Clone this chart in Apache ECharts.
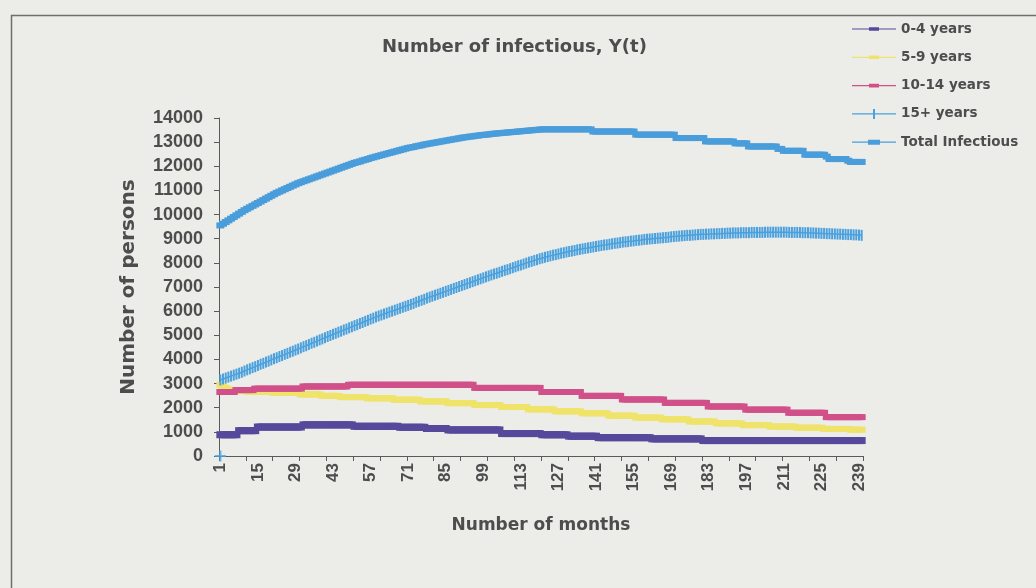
<!DOCTYPE html>
<html><head><meta charset="utf-8">
<script src="https://cdn.jsdelivr.net/npm/echarts@6/dist/echarts.min.js"></script>
<style>html,body{margin:0;padding:0;background:#ecece9;}#c{width:1036px;height:588px;}</style>
</head><body><div id="c"></div>
<script>
// Categories: month numbers 1..240
const months = Array.from({length: 240}, (_, i) => String(i + 1));

const seriesNames = ['0-4 years', '5-9 years', '10-14 years', '15+ years', 'Total Infectious'];

const age0_4 = [
880,880,880,880,880,880,880,1050,1050,1050,
1050,1050,1050,1050,1200,1200,1200,1200,1200,1200,
1200,1200,1200,1200,1200,1200,1200,1200,1200,1200,
1200,1290,1290,1290,1290,1290,1290,1290,1290,1290,
1290,1290,1290,1290,1290,1290,1290,1290,1290,1290,
1230,1230,1230,1230,1230,1230,1230,1230,1230,1230,
1230,1230,1230,1230,1230,1230,1230,1190,1190,1190,
1190,1190,1190,1190,1190,1190,1190,1140,1140,1140,
1140,1140,1140,1140,1140,1080,1080,1080,1080,1080,
1080,1080,1080,1080,1080,1080,1080,1080,1080,1080,
1080,1080,1080,1080,1080,930,930,930,930,930,
930,930,930,930,930,930,930,930,930,930,
880,880,880,880,880,880,880,880,880,880,
820,820,820,820,820,820,820,820,820,820,
820,760,760,760,760,760,760,760,760,760,
760,760,760,760,760,760,760,760,760,760,
760,710,710,710,710,710,710,710,710,710,
710,710,710,710,710,710,710,710,710,710,
640,640,640,640,640,640,640,640,640,640,
640,640,640,640,640,640,640,640,640,640,
640,640,640,640,640,640,640,640,640,640,
640,640,640,640,640,640,640,640,640,640,
640,640,640,640,640,640,640,640,640,640,
640,640,640,640,640,640,640,640,640,640
];

const age5_9 = [
2950,2880,2820,2770,2730,2700,2700,2700,2700,2700,
2660,2660,2660,2660,2660,2660,2660,2660,2660,2660,
2610,2610,2610,2610,2610,2610,2610,2610,2610,2610,
2550,2550,2550,2550,2550,2550,2550,2550,2490,2490,
2490,2490,2490,2490,2490,2440,2440,2440,2440,2440,
2440,2440,2440,2440,2440,2390,2390,2390,2390,2390,
2390,2390,2390,2390,2390,2330,2330,2330,2330,2330,
2330,2330,2330,2330,2330,2260,2260,2260,2260,2260,
2260,2260,2260,2260,2260,2190,2190,2190,2190,2190,
2190,2190,2190,2190,2190,2110,2110,2110,2110,2110,
2110,2110,2110,2110,2110,2030,2030,2030,2030,2030,
2030,2030,2030,2030,2030,1930,1930,1930,1930,1930,
1930,1930,1930,1930,1930,1850,1850,1850,1850,1850,
1850,1850,1850,1850,1850,1770,1770,1770,1770,1770,
1770,1770,1770,1770,1770,1670,1670,1670,1670,1670,
1670,1670,1670,1670,1670,1590,1590,1590,1590,1590,
1590,1590,1590,1590,1590,1520,1520,1520,1520,1520,
1520,1520,1520,1520,1520,1430,1430,1430,1430,1430,
1430,1430,1430,1430,1430,1350,1350,1350,1350,1350,
1350,1350,1350,1350,1350,1280,1280,1280,1280,1280,
1280,1280,1280,1280,1280,1220,1220,1220,1220,1220,
1220,1220,1220,1220,1220,1170,1170,1170,1170,1170,
1170,1170,1170,1170,1170,1120,1120,1120,1120,1120,
1120,1120,1120,1120,1120,1090,1090,1090,1090,1090
];

const age10_14 = [
2650,2650,2650,2650,2650,2650,2730,2730,2730,2730,
2730,2730,2730,2790,2790,2790,2790,2790,2790,2790,
2790,2790,2790,2790,2790,2790,2790,2790,2790,2790,
2790,2880,2880,2880,2880,2880,2880,2880,2880,2880,
2880,2880,2880,2880,2880,2880,2880,2880,2950,2950,
2950,2950,2950,2950,2950,2950,2950,2950,2950,2950,
2950,2950,2950,2950,2950,2950,2950,2950,2950,2950,
2950,2950,2950,2950,2950,2950,2950,2950,2950,2950,
2950,2950,2950,2950,2950,2950,2950,2950,2950,2950,
2950,2950,2950,2950,2950,2820,2820,2820,2820,2820,
2820,2820,2820,2820,2820,2820,2820,2820,2820,2820,
2820,2820,2820,2820,2820,2820,2820,2820,2820,2820,
2650,2650,2650,2650,2650,2650,2650,2650,2650,2650,
2650,2650,2650,2650,2650,2490,2490,2490,2490,2490,
2490,2490,2490,2490,2490,2490,2490,2490,2490,2490,
2340,2340,2340,2340,2340,2340,2340,2340,2340,2340,
2340,2340,2340,2340,2340,2340,2200,2200,2200,2200,
2200,2200,2200,2200,2200,2200,2200,2200,2200,2200,
2200,2200,2050,2050,2050,2050,2050,2050,2050,2050,
2050,2050,2050,2050,2050,2050,1920,1920,1920,1920,
1920,1920,1920,1920,1920,1920,1920,1920,1920,1920,
1920,1920,1790,1790,1790,1790,1790,1790,1790,1790,
1790,1790,1790,1790,1790,1790,1610,1610,1610,1610,
1610,1610,1610,1610,1610,1610,1610,1610,1610,1610
];

const age15plus = [
3150,3190,3230,3270,3310,3350,3390,3430,3470,3520,
3570,3610,3660,3700,3750,3800,3840,3890,3930,3980,
4030,4070,4120,4160,4210,4250,4300,4340,4390,4430,
4480,4530,4570,4620,4670,4710,4760,4810,4850,4900,
4950,4990,5040,5080,5130,5170,5220,5260,5310,5350,
5400,5440,5490,5530,5580,5620,5670,5710,5760,5800,
5840,5880,5920,5960,6000,6040,6080,6120,6160,6200,
6240,6280,6320,6370,6410,6450,6490,6540,6580,6620,
6660,6700,6740,6780,6820,6860,6900,6940,6980,7020,
7060,7100,7140,7180,7220,7260,7300,7340,7380,7420,
7460,7500,7540,7570,7610,7650,7690,7720,7760,7800,
7840,7880,7910,7950,7990,8030,8060,8100,8130,8170,
8200,8230,8260,8290,8320,8340,8370,8400,8420,8450,
8470,8490,8510,8540,8560,8580,8600,8620,8640,8660,
8680,8700,8720,8740,8750,8770,8790,8810,8820,8840,
8860,8870,8880,8900,8910,8930,8940,8950,8970,8980,
8990,9000,9010,9020,9030,9040,9050,9060,9080,9090,
9100,9110,9120,9130,9140,9140,9150,9160,9170,9180,
9180,9190,9190,9200,9200,9210,9210,9220,9220,9230,
9230,9240,9240,9240,9250,9250,9250,9250,9260,9260,
9260,9260,9260,9270,9270,9270,9270,9270,9270,9270,
9270,9270,9260,9260,9260,9260,9260,9250,9250,9250,
9240,9240,9230,9230,9220,9220,9210,9210,9200,9200,
9190,9190,9180,9180,9170,9170,9160,9160,9150,9140
];

const totalInfectious = [
9550,9620,9690,9760,9830,9900,9970,10040,10110,10180,
10240,10300,10360,10420,10480,10540,10600,10660,10720,10780,
10840,10900,10950,11000,11050,11100,11150,11200,11250,11300,
11340,11380,11420,11460,11500,11540,11580,11620,11660,11700,
11740,11780,11820,11860,11900,11940,11980,12020,12060,12100,
12140,12170,12200,12240,12270,12300,12340,12370,12400,12430,
12460,12490,12520,12550,12580,12610,12640,12670,12700,12730,
12760,12780,12800,12830,12850,12870,12900,12920,12940,12960,
12980,13000,13020,13040,13060,13080,13100,13120,13140,13160,
13180,13200,13210,13230,13240,13260,13270,13290,13300,13310,
13320,13340,13350,13360,13370,13380,13390,13400,13410,13420,
13430,13440,13450,13460,13470,13480,13490,13500,13510,13520,
13530,13530,13530,13530,13530,13530,13530,13530,13530,13530,
13530,13530,13530,13530,13530,13530,13530,13530,13530,13440,
13440,13440,13440,13440,13440,13440,13440,13440,13440,13440,
13440,13440,13440,13440,13440,13310,13310,13310,13310,13310,
13310,13310,13310,13310,13310,13310,13310,13310,13310,13310,
13170,13170,13170,13170,13170,13170,13170,13170,13170,13170,
13170,13030,13030,13030,13030,13030,13030,13030,13030,13030,
13030,13030,12950,12950,12950,12950,12950,12820,12820,12820,
12820,12820,12820,12820,12820,12820,12820,12820,12720,12720,
12640,12640,12640,12640,12640,12640,12640,12640,12480,12480,
12480,12480,12480,12480,12480,12480,12400,12300,12300,12300,
12300,12300,12300,12300,12230,12180,12180,12180,12180,12180
];

// Lone marker drawn at month 1 on the zero line
const originMarker = [0];

const colors = ['#56489b', '#efe36a', '#d1508a', '#4aa1dd', '#4a9ddb'];
const textColor = '#4d4d4d';

const chart = echarts.init(document.getElementById('c'), null, {renderer: 'canvas'});

const base = 'path://M0,0L0.01,0M44,14L43.99,14M0,6.4H44V7.6H0Z';
const icons = [
  base + 'M17,5.2H27V8.8H17Z',
  base + 'M17,5.2H27V8.8H17Z',
  base + 'M17,5.2H27V8.8H17Z',
  base + 'M21,2H23V12H21Z',
  base + 'M16,4.5H28V9.5H16Z'
];

function lineSeries(i, data, symSize, width) {
  return {
    name: seriesNames[i], type: 'line', data: data,
    symbol: 'rect', symbolSize: symSize, showSymbol: true, showAllSymbol: true,
    lineStyle: {color: colors[i], width: width},
    itemStyle: {color: colors[i]},
    emphasis: {disabled: true}, sampling: null, z: 2 + i
  };
}

chart.setOption({
  animation: false,
  backgroundColor: '#ecece9',
  graphic: [{
    type: 'rect', left: 9, top: 13, z: -1,
    shape: {x: 0, y: 0, width: 1100, height: 700},
    style: {fill: 'none', stroke: '#6e6e6e', lineWidth: 1.5}
  }],
  title: {
    text: 'Number of infectious, Y(t)',
    left: 377, top: 33,
    textStyle: {fontFamily: 'DejaVu Sans', fontWeight: 'bold', fontSize: 18, color: textColor}
  },
  legend: {
    orient: 'vertical', left: 847, top: 17,
    itemWidth: 44, itemHeight: 14, itemGap: 14.3,
    data: seriesNames.map((n, i) => ({name: n, icon: icons[i]})),
    textStyle: {fontFamily: 'DejaVu Sans', fontWeight: 'bold', fontSize: 13.5, color: textColor},
    selectedMode: false
  },
  grid: {left: 219, right: 173, top: 118, bottom: 132, containLabel: false, outerBoundsMode: 'none'},
  xAxis: {
    type: 'category', data: months, boundaryGap: true,
    name: 'Number of months', nameLocation: 'middle', nameGap: 61,
    nameTextStyle: {fontFamily: 'DejaVu Sans', fontWeight: 'bold', fontSize: 17, color: textColor},
    axisLine: {show: true, lineStyle: {color: '#5a5a5a', width: 1}},
    axisTick: {show: true, interval: 9, length: 5, inside: false, lineStyle: {color: '#5a5a5a'}},
    axisLabel: {interval: 13, rotate: 90, margin: 7, fontFamily: 'Liberation Sans', fontWeight: 'bold', fontSize: 17, color: textColor},
    splitLine: {show: false}
  },
  yAxis: {
    type: 'value', min: 0, max: 14000, interval: 1000,
    name: 'Number of persons', nameLocation: 'middle', nameGap: 80, nameRotate: 90,
    nameTextStyle: {fontFamily: 'DejaVu Sans', fontWeight: 'bold', fontSize: 20, color: textColor},
    axisLine: {show: true, lineStyle: {color: '#5a5a5a', width: 1}},
    axisTick: {show: true, length: 5, inside: false, lineStyle: {color: '#5a5a5a'}},
    axisLabel: {margin: 16, fontFamily: 'Liberation Sans', fontWeight: 'bold', fontSize: 18, color: textColor,
      formatter: v => String(v)},
    splitLine: {show: false}
  },
  series: [
    lineSeries(0, age0_4, [8, 7], 2),
    lineSeries(1, age5_9, [8, 6], 2),
    lineSeries(2, age10_14, [8, 6], 2),
    lineSeries(3, age15plus, [2, 11], 1.5),
    lineSeries(4, totalInfectious, [8, 6], 2),
    {
      name: 'origin', type: 'scatter', data: originMarker,
      symbol: 'path://M4,0H6V10H4ZM0,4H10V6H0Z', symbolSize: [11, 11],
      itemStyle: {color: colors[3]}, z: 10, emphasis: {disabled: true}
    }
  ]
});
</script>
</body></html>
